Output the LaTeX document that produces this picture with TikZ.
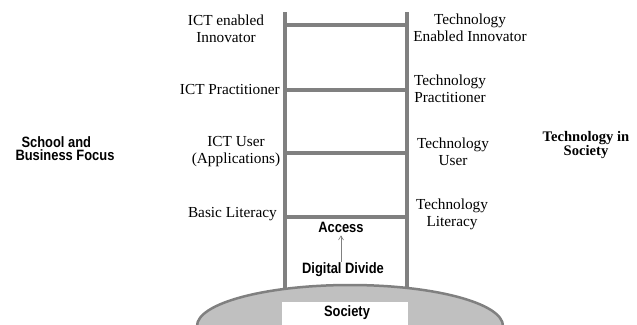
\documentclass[tikz,border=0pt]{standalone}
\usepackage{fontspec}
\setmainfont{Liberation Serif}
\newfontfamily\nb{Liberation Sans}[UprightFont={* Bold}, FakeStretch=0.86]
\usetikzlibrary{arrows.meta}
\definecolor{railgray}{HTML}{808080}
\definecolor{societyfill}{HTML}{C0C0C0}
\tikzset{
  rail/.style={draw=railgray, line width=4pt},
  lbl/.style={inner sep=0pt, align=center, font=\fontsize{15.3}{17}\selectfont},
  boldserif/.style={inner sep=0pt, align=center, font=\fontsize{14.6}{14}\selectfont\bfseries},
  boldsans/.style={inner sep=0pt, align=center, font=\nb\fontsize{15}{13.5}\selectfont},
}
\begin{document}
\begin{tikzpicture}[x=1pt,y=-1pt]
\clip (0,0) rectangle (637,324);
\fill[white] (0,0) rectangle (637,324);
% ladder rails and rungs
\draw[rail] (285,12) -- (285,295);
\draw[rail] (407,12) -- (407,295);
\foreach \y in {25,90,153,217} \draw[rail] (285,\y) -- (407,\y);
% society ellipse
\draw[draw=railgray, line width=2.5pt, fill=societyfill] (350,326) ellipse [x radius=153, y radius=41];
\fill[white] (282,302) rectangle (408,330);
\node[boldsans] (soc) at (347,313) {Society};
% left labels
\node[lbl] (l1) at (226,28.5) {ICT enabled\\Innovator};
\node[lbl, anchor=east] (l2) at (280,90) {ICT Practitioner};
\node[lbl] (l3) at (236,151.5) {ICT User\\(Applications)};
\node[lbl, anchor=east] (l4) at (277,214) {Basic Literacy};
% right labels
\node[lbl] (r1) at (470,28) {Technology\\Enabled Innovator};
\node[lbl] (r2) at (450,89) {Technology\\Practitioner};
\node[lbl] (r3) at (453,151.5) {Technology\\User};
\node[lbl] (r4) at (452,214) {Technology\\Literacy};
% side headings
\node[boldsans, align=left] (sb) at (65,148.5) {\hspace*{6pt}School and\\Business Focus};
\node[boldserif] (ts) at (586,145) {Technology in\\Society};
% access / digital divide
\node[boldsans] (acc) at (341,227) {Access};
\node[boldsans] (dd) at (343,270) {Digital Divide};
\draw[railgray, line width=0.6pt, -{Straight Barb[length=4pt,width=5pt]}] (dd.north) ++(-2,-1) -- ([xshift=0pt,yshift=-3pt]acc.south);
\end{tikzpicture}
\end{document}
